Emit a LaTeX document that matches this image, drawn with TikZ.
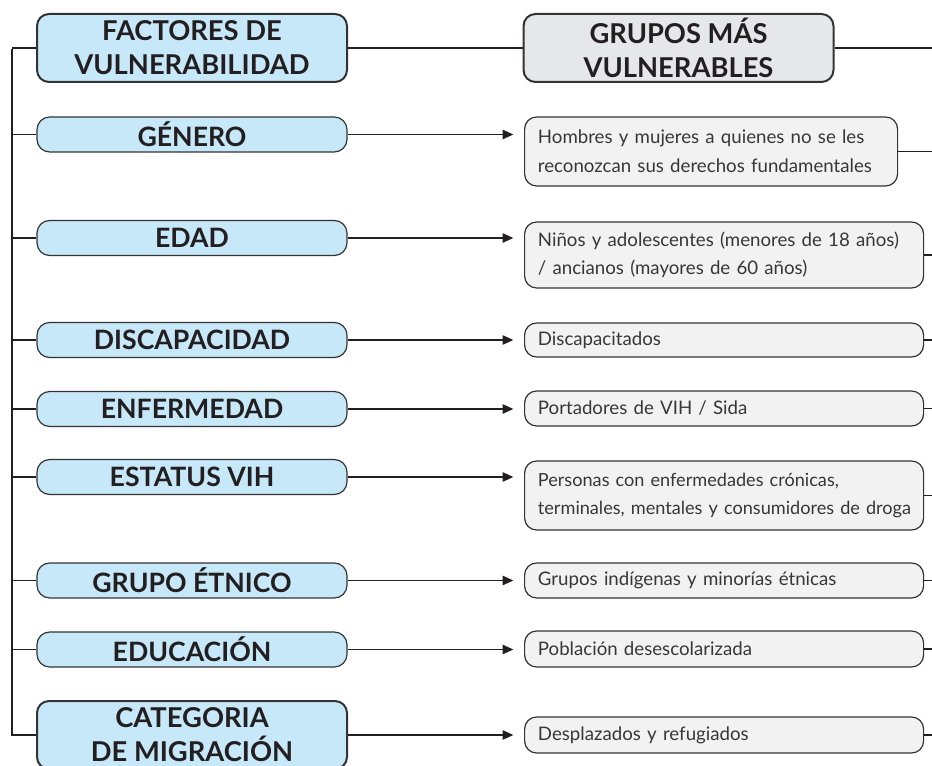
\documentclass[tikz,border=0pt]{standalone}
\usepackage{fontspec}
\setmainfont{Lato}
\usetikzlibrary{arrows.meta}

\definecolor{factorblue}{RGB}{198,232,248}
\definecolor{headgray}{RGB}{230,231,232}
\definecolor{groupgray}{RGB}{242,242,243}
\definecolor{boxline}{RGB}{51,51,51}
\definecolor{textdark}{RGB}{35,31,32}
\definecolor{textgray}{RGB}{55,55,55}

\tikzset{every picture/.style={line width=0.75pt}}
\tikzset{
  headbox/.style={draw=boxline, line width=1.5pt, rounded corners=9pt, minimum width=232.5pt, minimum height=51pt, inner sep=0pt, align=center, text=textdark, font=\fontsize{20.5}{25.5}\selectfont\bfseries},
  factorbox/.style={draw=boxline, fill=factorblue, line width=0.9pt, rounded corners=9.5pt, minimum width=232.5pt, minimum height=26.25pt, inner sep=0pt, text=textdark, font=\fontsize{20}{22}\selectfont\bfseries},
  groupbox/.style={draw=boxline, fill=groupgray, line width=0.9pt, rounded corners=9pt, anchor=west, text width=#1, align=left, inner xsep=10pt, inner ysep=0pt, text=textgray, font=\fontsize{14}{21.5}\selectfont},
  link/.style={draw=textdark, line width=1.1pt},
  arrowlink/.style={link, -{Triangle[length=8pt,width=7pt]}, shorten >=8pt},
}

\begin{document}
\begin{tikzpicture}[x=0.75pt,y=0.75pt,yscale=-1,xscale=1]
\useasboundingbox (0,0) rectangle (932,766);

% headers
\node[headbox, fill=factorblue] (fac) at (192,48) {FACTORES DE\\VULNERABILIDAD};
\node[headbox, fill=headgray] (grp) at (678.5,48) {GRUPOS MÁS\\VULNERABLES};

% factors
\node[factorbox] (gen) at (192,134.5) {GÉNERO};
\node[factorbox] (eda) at (192,238) {EDAD};
\node[factorbox] (dis) at (192,340) {DISCAPACIDAD};
\node[factorbox] (enf) at (192,409) {ENFERMEDAD};
\node[factorbox] (vih) at (192,477) {ESTATUS VIH};
\node[factorbox] (etn) at (192,580.5) {GRUPO ÉTNICO};
\node[factorbox] (edu) at (192,649.5) {EDUCACIÓN};
\node[headbox, fill=factorblue] (mig) at (192,735) {CATEGORIA\\DE MIGRACIÓN};

% groups
\node[groupbox=259.75pt, minimum height=51.75pt] (rgen) at (524,151.5) {Hombres y mujeres a quienes no se les\\reconozcan sus derechos fundamentales};
\node[groupbox=279.25pt, minimum height=49.5pt] (reda) at (524,255) {\mbox{Niños y adolescentes (menores de 18 años)}\\/ ancianos (mayores de 60 años)};
\node[groupbox=279.25pt, minimum height=25.5pt] (rdis) at (524,340) {Discapacitados};
\node[groupbox=279.25pt, minimum height=26.25pt] (renf) at (524,408.5) {Portadores de VIH / Sida};
\node[groupbox=279.25pt, minimum height=51.75pt, font=\fontsize{13.6}{21.5}\selectfont] (rvih) at (524,495.5) {Personas con enfermedades crónicas,\\\mbox{terminales, mentales y consumidores de droga}};
\node[groupbox=279.25pt, minimum height=26.25pt] (retn) at (524,580.5) {Grupos indígenas y minorías étnicas};
\node[groupbox=279.25pt, minimum height=27pt] (redu) at (524,649) {Población desescolarizada};
\node[groupbox=279.25pt, minimum height=27pt] (rmig) at (524,735) {Desplazados y refugiados};

\coordinate (spinetop) at (12,49);
\coordinate (edge) at (932,0);

% spine
\draw[link] (spinetop) |- (mig.west);
\foreach \n in {fac,gen,eda,dis,enf,vih,etn,edu}
  \draw[link] (spinetop |- \n.west) -- (\n.west);

% factor -> group
\draw[link] (fac.east) -- (grp.west);
\foreach \a/\b in {gen/rgen,eda/reda,dis/rdis,enf/renf,vih/rvih,etn/retn,edu/redu,mig/rmig}
  \draw[arrowlink] (\a.east) -- (\a.east -| \b.west);

% exits
\foreach \b in {grp,rgen,reda,rdis,renf,rvih,retn,redu,rmig}
  \draw[link] (\b.east) -- (\b.east -| edge);

\end{tikzpicture}
\end{document}
